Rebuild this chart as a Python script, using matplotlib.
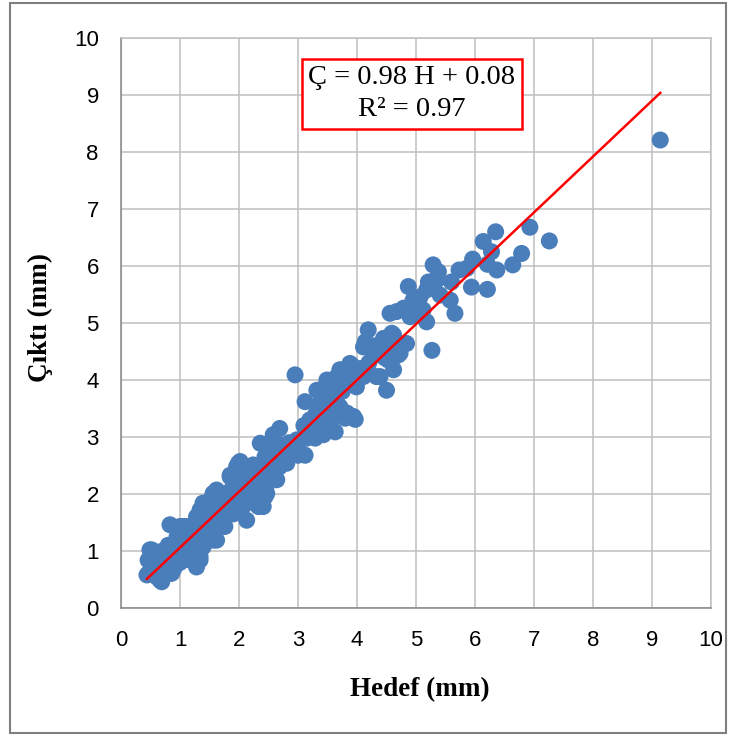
import numpy as np
import matplotlib
matplotlib.use("Agg")
import matplotlib.pyplot as plt
from matplotlib.patches import Rectangle

# ---- data ----
hedef = [
    9.14, 7.26, 6.93, 6.79, 6.64, 6.35, 6.37, 6.14, 6.28, 6.21, 6.21, 5.94, 5.96, 5.73, 5.86,
    5.60, 5.58, 5.66, 5.29, 5.38, 5.21, 5.35, 4.87, 5.07, 4.95, 4.79, 4.98, 5.18, 5.41, 4.84,
    5.27, 5.12, 4.56, 4.67, 4.90, 5.01, 5.18,
    4.19, 4.14, 4.11, 4.45, 4.59, 4.64, 4.28, 4.39, 4.50, 4.59, 4.62, 4.73, 4.33, 4.50, 3.91,
    3.99, 3.77, 3.66, 3.49, 3.37, 3.99, 4.11, 3.66, 3.54, 3.83, 3.94, 4.47, 3.88, 3.71, 3.60,
    4.79, 4.95, 4.62, 4.45, 4.53, 4.70, 4.39,
    2.95, 3.32, 3.12, 3.37, 3.54, 3.66, 3.66, 3.80, 3.97, 3.54, 3.40, 3.15, 3.29, 3.43, 3.63,
    3.00, 3.12, 2.69, 2.58, 2.36, 2.50, 2.64, 2.81, 2.69, 2.75, 2.44, 2.53, 2.02, 2.24, 1.85,
    1.96, 2.13, 2.30, 2.47, 2.44, 2.24, 2.33, 1.79, 2.02, 2.13, 1.68, 1.85, 3.06, 2.92, 3.26,
    3.71, 3.77,
    2.58, 2.64, 2.47, 2.30, 2.13, 1.85, 1.96, 1.56, 1.62, 1.34, 1.39, 0.83, 1.00, 1.11, 1.62,
    1.76, 1.68, 0.52, 0.46, 0.44, 0.69, 0.83, 1.28, 1.34, 1.99, 1.51, 1.28, 2.41, 1.06, 1.56,
    1.34, 1.17, 0.94, 0.72, 0.49, 0.47, 0.66, 0.86, 1.34, 1.39,
    0.55, 0.60, 0.65, 0.70, 0.75, 0.80, 0.85, 0.90, 0.95, 1.00, 1.05, 1.10, 1.15, 1.20, 1.25,
    1.30, 1.35, 1.40, 1.45, 1.50, 1.55, 1.60, 1.65, 1.70, 1.75, 1.80, 1.85, 1.90, 1.95, 2.00,
    2.05, 2.10, 2.15, 2.20, 2.25, 2.35, 2.40, 2.45, 2.55, 2.60, 2.70, 2.75, 2.85, 0.60, 0.75,
    0.90, 1.00, 1.10, 1.20, 0.70, 0.80, 0.95, 1.15, 1.30, 1.50, 1.45, 1.70, 1.90, 2.05, 2.20,
    2.35, 2.55, 2.65,
    3.20, 3.30, 3.45, 3.50, 3.10, 3.25, 3.55, 3.75, 3.85, 3.70, 4.00, 4.05, 4.20, 4.30, 4.25,
    2.90, 2.98,
]
cikti = [
    8.21, 6.44, 6.68, 6.22, 6.02, 6.60, 5.93, 6.43, 6.25, 6.03, 5.59, 5.63, 6.12, 5.93, 5.96,
    5.72, 5.40, 5.17, 6.02, 5.90, 5.72, 5.75, 5.64, 5.46, 5.40, 5.23, 5.20, 5.02, 5.49, 4.64,
    4.52, 5.23, 5.17, 5.20, 5.11, 5.35, 5.58,
    4.88, 4.67, 4.58, 4.73, 4.82, 4.67, 4.47, 4.44, 4.50, 4.35, 4.18, 4.47, 4.06, 3.82, 4.26,
    4.18, 4.18, 4.06, 4.00, 3.82, 3.88, 4.06, 3.59, 3.47, 3.42, 3.36, 4.39, 4.29, 4.18, 3.94,
    5.26, 5.14, 4.79, 4.70, 4.35, 4.44, 4.06,
    4.09, 3.82, 3.62, 3.59, 3.65, 3.53, 3.39, 3.33, 3.31, 3.24, 3.27, 2.98, 2.98, 3.04, 3.09,
    2.68, 2.68, 3.15, 3.04, 2.89, 2.83, 2.89, 2.54, 2.48, 2.77, 2.65, 2.60, 2.57, 2.51, 2.33,
    2.28, 2.33, 2.22, 2.16, 1.95, 1.89, 1.78, 2.01, 1.95, 1.84, 1.89, 1.84, 2.71, 2.74, 3.01,
    3.53, 3.36,
    2.42, 2.25, 2.01, 1.84, 1.54, 2.30, 2.48, 2.01, 2.07, 1.72, 1.84, 1.46, 1.43, 1.43, 1.19,
    1.43, 1.49, 1.02, 0.84, 0.58, 0.46, 0.61, 0.72, 0.90, 2.54, 1.89, 1.60, 1.78, 1.43, 1.19,
    1.14, 0.96, 0.84, 0.72, 1.02, 0.61, 0.49, 0.61, 0.84, 1.07,
    0.70, 0.90, 0.65, 0.85, 0.95, 0.75, 0.90, 1.00, 0.95, 1.10, 0.90, 1.20, 1.05, 1.25, 1.10,
    1.35, 1.25, 1.50, 1.40, 1.60, 1.45, 1.75, 1.60, 1.80, 1.65, 1.95, 2.05, 1.80, 2.10, 2.20,
    2.00, 2.15, 2.35, 2.10, 2.30, 2.45, 2.30, 2.55, 2.70, 2.55, 2.75, 2.60, 2.90, 0.55, 0.60,
    0.70, 0.80, 0.85, 0.90, 1.00, 1.10, 1.25, 1.35, 1.55, 1.75, 1.25, 1.55, 1.65, 1.75, 1.95,
    2.05, 2.30, 2.45,
    3.30, 3.40, 3.55, 3.40, 3.20, 3.15, 3.75, 3.80, 3.95, 3.90, 4.05, 4.20, 4.30, 4.60, 4.55,
    2.80, 2.95,
]
slope = 0.98
intercept = 0.08
equation_text = "Ç = 0.98 H + 0.08\nR² = 0.97"
x_label = "Hedef (mm)"
y_label = "Çıktı (mm)"
ticks = list(range(0, 11))

# ---- figure ----
W, H = 731, 736
fig = plt.figure(figsize=(W / 100, H / 100), dpi=100)
fig.patch.set_facecolor("white")
ax = fig.add_axes([121 / W, 1 - 608 / H, 590 / W, 570 / H])

grid_c = "#BFBFBF"
ax.set_xlim(0, 10)
ax.set_ylim(0, 10)
ax.set_xticks(ticks)
ax.set_yticks(ticks)
ax.grid(True, color=grid_c, lw=1.1, zorder=0)
ax.set_axisbelow(True)
for s in ["top", "right"]:
    ax.spines[s].set_color(grid_c)
    ax.spines[s].set_linewidth(1.1)
for s in ["left", "bottom"]:
    ax.spines[s].set_color("#868686")
    ax.spines[s].set_linewidth(1.1)
ax.tick_params(length=0, labelsize=16, colors="#000000")
ax.tick_params(axis="x", pad=16)
ax.tick_params(axis="y", pad=16)
for lab in ax.get_xticklabels() + ax.get_yticklabels():
    lab.set_fontfamily(["Liberation Sans Narrow", "Liberation Sans", "DejaVu Sans"])

ax.scatter(hedef, cikti, s=150, color="#4A7EBB", edgecolors="none", zorder=3)

xs = np.array([min(hedef), max(hedef)])
ax.plot(xs, slope * xs + intercept, color="#FF0000", lw=1.8, zorder=4)

ax.text(4.93, 9.02, equation_text, ha="center", va="center", multialignment="center",
        fontsize=20.5, family=["Liberation Serif", "DejaVu Serif"], linespacing=1.38,
        bbox=dict(boxstyle="square,pad=0.22", facecolor="white", edgecolor="#FF0000", lw=1.8),
        zorder=5)

ax.set_xlabel(x_label, fontsize=19.5, fontweight="bold", family=["Liberation Serif", "DejaVu Serif"])
ax.set_ylabel(y_label, fontsize=19.5, fontweight="bold", family=["Liberation Serif", "DejaVu Serif"])
ax.xaxis.set_label_coords(0.507, -0.122)
ax.yaxis.set_label_coords(-0.115, 0.509)

# outer chart-area frame
fig.patches.append(Rectangle((10 / W, 1 - 733 / H), 716 / W, 730 / H, transform=fig.transFigure,
                             fill=False, edgecolor="#7F7F7F", lw=1.5))

fig.savefig("out.png", dpi=100)
